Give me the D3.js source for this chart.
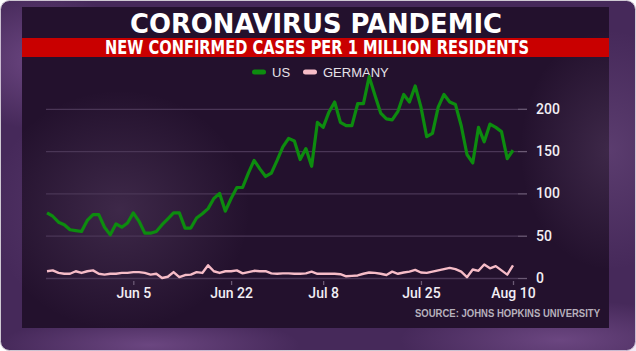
<!DOCTYPE html>
<html>
<head>
<meta charset="utf-8">
<script src="https://cdn.jsdelivr.net/npm/d3@7"></script>
<style>
  body { margin: 0; background: #ffffff; }
  svg { display: block; }
</style>
</head>
<body>
<div id="chart"></div>
<script>
// Data: daily new cases per 1 million residents, May 21 - Aug 10
const startDay = new Date(2020, 4, 21);
const endDay = new Date(2020, 7, 10);
const usValues = [77, 73, 66, 63, 57, 56, 55, 68, 75, 75, 60, 51, 64, 60, 65, 77, 67, 53, 53, 55,
  63, 70, 77, 77, 59, 59, 71, 76, 82, 94, 100, 79, 94, 107, 107, 124, 139, 129, 120, 124,
  139, 155, 165, 162, 140, 153, 132, 184, 178, 196, 208, 184, 180, 180, 206, 206, 238, 216, 195, 188,
  187, 197, 217, 208, 227, 202, 167, 171, 202, 217, 208, 205, 180, 146, 136, 178, 161, 182, 178, 173,
  141, 151];
const germanyValues = [8, 9, 6, 5, 5, 8, 6, 8, 9, 5, 4, 5, 5, 6, 6, 7, 7, 6, 4, 5,
  0, 1.5, 7, 1, 3.5, 4, 7, 6, 15, 8, 6, 8, 8, 9, 5.5, 7, 8.5, 8, 8, 5.5,
  5, 5.5, 5.5, 5, 5, 5.5, 7.5, 5, 5, 5, 5, 4.5, 2, 2.5, 3, 5, 6.5, 6, 5, 3.5,
  7.5, 5, 6.5, 7.5, 9.5, 6.5, 6, 7.5, 9, 10.5, 12, 10.5, 7.5, 1, 10, 8.5, 16, 11.5, 14, 9,
  4, 15];
const yTicks = [0, 50, 100, 150, 200];
const xTickLabels = ["2020-06-05", "2020-06-22", "2020-07-08", "2020-07-25", "2020-08-10"];
const seriesNames = ["US", "GERMANY"];
const seriesColors = ["#0d8c0f", "#f6bcc7"];

const W = 636, H = 351;
const days = d3.timeDay.range(startDay, d3.timeDay.offset(endDay, 1));

const svg = d3.select("#chart").append("svg")
  .attr("width", W)
  .attr("height", H);

// Nền và hiệu ứng khói
const defs = svg.append("defs");
function smoke(id, color, op) {
  const g = defs.append("radialGradient").attr("id", id);
  g.append("stop").attr("offset", "0%").attr("stop-color", color).attr("stop-opacity", op);
  g.append("stop").attr("offset", "100%").attr("stop-color", color).attr("stop-opacity", 0);
}
smoke("smokeA", "#b07cc8", 0.35);
smoke("smokeB", "#c9a2da", 0.16);

svg.append("rect")
  .attr("x", 0.5).attr("y", 0.5)
  .attr("width", W - 1).attr("height", H - 1)
  .attr("rx", 9)
  .attr("fill", "#46295a")
  .attr("stroke", "#cfc9d3");

svg.append("ellipse").attr("cx", 40).attr("cy", 60).attr("rx", 90).attr("ry", 70).attr("fill", "url(#smokeA)");
svg.append("ellipse").attr("cx", 560).attr("cy", 340).attr("rx", 160).attr("ry", 40).attr("fill", "url(#smokeA)");
svg.append("ellipse").attr("cx", 150).attr("cy", 345).attr("rx", 150).attr("ry", 30).attr("fill", "url(#smokeA)");

// Panel tối
svg.append("rect")
  .attr("x", 22).attr("y", 7)
  .attr("width", 587).attr("height", 321)
  .attr("fill", "#23112d");

svg.append("ellipse").attr("cx", 120).attr("cy", 210).attr("rx", 130).attr("ry", 120).attr("fill", "url(#smokeB)");
svg.append("ellipse").attr("cx", 610).attr("cy", 150).attr("rx", 90).attr("ry", 120).attr("fill", "url(#smokeB)");

// Tiêu đề
svg.append("text")
  .attr("x", 316).attr("y", 32.5)
  .attr("text-anchor", "middle")
  .attr("textLength", 372)
  .attr("lengthAdjust", "spacingAndGlyphs")
  .style("font-family", "'Liberation Sans Narrow', 'DejaVu Sans Condensed', sans-serif")
  .style("font-size", "26px")
  .style("font-weight", "bold")
  .style("fill", "#ffffff")
  .text("CORONAVIRUS PANDEMIC");

svg.append("rect")
  .attr("x", 22).attr("y", 38)
  .attr("width", 587).attr("height", 19)
  .attr("fill", "#c90000");

svg.append("text")
  .attr("x", 317).attr("y", 54.3)
  .attr("text-anchor", "middle")
  .attr("textLength", 424)
  .attr("lengthAdjust", "spacingAndGlyphs")
  .style("font-family", "'Liberation Sans Narrow', 'DejaVu Sans Condensed', sans-serif")
  .style("font-size", "19px")
  .style("font-weight", "bold")
  .style("fill", "#ffffff")
  .text("NEW CONFIRMED CASES PER 1 MILLION RESIDENTS");

// Legend
const legendX = [252, 303];
seriesNames.forEach((name, i) => {
  svg.append("rect")
    .attr("x", legendX[i]).attr("y", 69.5)
    .attr("width", 14).attr("height", 5)
    .attr("rx", 2.5)
    .attr("fill", seriesColors[i]);
  svg.append("text")
    .attr("x", legendX[i] + 20).attr("y", 76.5)
    .style("font-family", "'Liberation Sans', Arial, sans-serif")
    .style("font-size", "13px")
    .style("fill", "#e6e2e8")
    .text(name);
});

// Scales
const x = d3.scaleTime()
  .domain([startDay, endDay])
  .range([47, 513]);

const y = d3.scaleLinear()
  .domain([0, 200])
  .range([278, 108.8]);

// Grid lines
const grid = svg.append("g")
  .attr("transform", "translate(518,0)")
  .call(d3.axisLeft(y).tickValues(yTicks).tickSize(472).tickFormat(""));
grid.select(".domain").remove();
grid.selectAll("line").attr("stroke", "#4a3656").attr("stroke-width", 1.3);

// Y axis (right)
const yAxis = svg.append("g")
  .attr("transform", "translate(518,0)")
  .call(d3.axisRight(y).tickValues(yTicks).tickSize(9).tickPadding(9));
yAxis.select(".domain").remove();
yAxis.selectAll("line").attr("stroke", "#6b5a74").attr("stroke-width", 1.3);
yAxis.selectAll("text")
  .style("font-family", "Roboto, sans-serif")
  .style("font-size", "14px")
  .style("font-weight", "500")
  .style("fill", "#f2eef4");

// X axis
const parse = d3.timeParse("%Y-%m-%d");
const xAxis = svg.append("g")
  .attr("transform", "translate(0,281)")
  .call(d3.axisBottom(x)
    .tickValues(xTickLabels.map(parse))
    .tickSize(4)
    .tickPadding(3)
    .tickFormat(d3.timeFormat("%b %-d")));
xAxis.select(".domain").remove();
xAxis.selectAll("line").attr("stroke", "#6b5a74").attr("stroke-width", 1.3);
xAxis.selectAll("text")
  .style("font-family", "Roboto, sans-serif")
  .style("font-size", "14px")
  .style("font-weight", "500")
  .style("fill", "#f2eef4");

// Lines
const line = d3.line()
  .x((d, i) => x(days[i]))
  .y(d => y(d));

svg.append("path")
  .datum(germanyValues)
  .attr("fill", "none")
  .attr("stroke", seriesColors[1])
  .attr("stroke-width", 2.4)
  .attr("stroke-linejoin", "round")
  .attr("d", line);

svg.append("path")
  .datum(usValues)
  .attr("fill", "none")
  .attr("stroke", seriesColors[0])
  .attr("stroke-width", 3.2)
  .attr("stroke-linejoin", "round")
  .attr("d", line);

// Nguồn
svg.append("text")
  .attr("x", 600).attr("y", 317)
  .attr("text-anchor", "end")
  .attr("textLength", 185)
  .attr("lengthAdjust", "spacingAndGlyphs")
  .style("font-family", "'Liberation Sans', Arial, sans-serif")
  .style("font-size", "10px")
  .style("font-weight", "bold")
  .style("fill", "#b7b0bc")
  .text("SOURCE: JOHNS HOPKINS UNIVERSITY");
</script>
</body>
</html>
